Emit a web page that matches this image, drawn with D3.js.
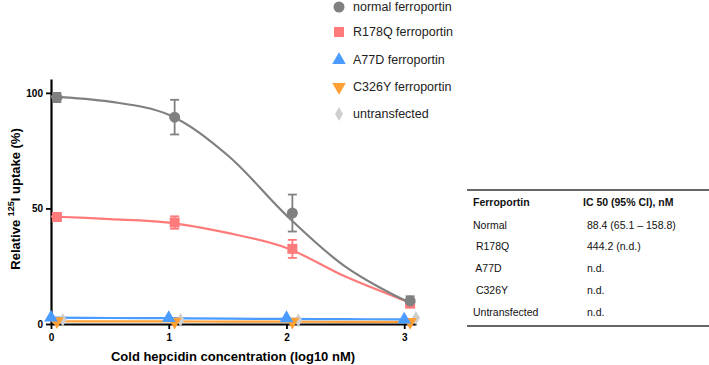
<!DOCTYPE html>
<html>
<head>
<meta charset="utf-8">
<script src="https://cdn.jsdelivr.net/npm/d3@7"></script>
<style>
  body { margin: 0; background: #fff; }
  svg { font-family: "Liberation Sans", Arial, sans-serif; }
  .axis text { font-size: 10px; font-weight: bold; fill: #000; }
  .axis path, .axis line { stroke: #000; }
</style>
</head>
<body>
<div id="chart"></div>
<script>
// concentrations (log10 nM)
const doses = [0, 1, 2, 3];

// measured points (mean, sem)
const normalMean = [98, 89.5, 48, 10];
const normalErr = [2, 7.5, 8, 2];
const r178qMean = [46.3, 43.9, 32.5, 8.8];
const r178qErr = [1, 2.7, 3.9, 1.5];
const a77dMean = [2.8, 2.6, 2.5, 1.9];
const c326yMean = [1.2, 1.0, 1.0, 0.9];
const untransMean = [1.8, 1.8, 1.6, 2.6];

// fitted curves
const curveX = [0, 0.5, 1, 1.5, 2, 2.5, 3, 3.05];
const normalFit = [98.4, 96.2, 90.5, 73, 47, 24.8, 10.4, 9.6];
const r178qFit = [46.5, 45.4, 43.9, 39.4, 32.9, 20.5, 10.2, 9.2];
const a77dFit = [2.8, 2.6, 2.5, 2.3, 2.2, 2.1, 2.0, 2.0];
const c326yFit = [1.2, 1.15, 1.1, 1.05, 1.0, 0.95, 0.9, 0.9];

const seriesNames = ["normal ferroportin", "R178Q ferroportin", "A77D ferroportin", "C326Y ferroportin", "untransfected"];
const seriesColors = ["#808080", "#ff7a7a", "#4a9cff", "#ffa035", "#cfcfcf"];
const seriesOffsets = [0.05, 0.05, 0, 0.05, 0.1];

const yTicks = [0, 50, 100];
const xTicks = [0, 1, 2, 3];

const tableHead = ["Ferroportin", "IC 50 (95% CI), nM"];
const tableRows = [
    ["Normal", "88.4 (65.1 \u2013 158.8)"],
    [" R178Q", "444.2 (n.d.)"],
    [" A77D", "n.d."],
    [" C326Y", "n.d."],
    ["Untransfected", "n.d."]
];

const svg = d3.select("#chart").append("svg")
    .attr("width", 709)
    .attr("height", 365);

const x = d3.scaleLinear().domain([0, 3.1]).range([51, 416]);
const y = d3.scaleLinear().domain([0, 106]).range([324, 79]);

// axes
const xAxis = svg.append("g")
    .attr("class", "axis")
    .attr("transform", "translate(0," + y(0) + ")")
    .call(d3.axisBottom(x).tickValues(xTicks).tickSize(5).tickSizeOuter(0).tickFormat(d3.format("d")));
xAxis.select(".domain").attr("stroke-width", 2.2);
xAxis.selectAll(".tick line").attr("stroke-width", 1.8);
xAxis.selectAll(".tick text").attr("dy", "0.9em");

const yAxis = svg.append("g")
    .attr("class", "axis")
    .attr("transform", "translate(" + x(0) + ",0)")
    .call(d3.axisLeft(y).tickValues(yTicks).tickSize(5).tickSizeOuter(0));
yAxis.select(".domain").attr("stroke-width", 2.2);
yAxis.selectAll(".tick line").attr("stroke-width", 1.8);

// axis titles
svg.append("text")
    .attr("x", 233)
    .attr("y", 361)
    .attr("text-anchor", "middle")
    .attr("font-size", 13)
    .attr("font-weight", "bold")
    .text("Cold hepcidin concentration (log10 nM)");

const yTitle = svg.append("text")
    .attr("transform", "translate(20,199) rotate(-90)")
    .attr("text-anchor", "middle")
    .attr("font-size", 13)
    .attr("font-weight", "bold");
yTitle.append("tspan").text("Relative ");
yTitle.append("tspan").attr("font-size", 9).attr("dy", -6).text("125");
yTitle.append("tspan").attr("dy", 6).text("I uptake (%)");

// fitted lines
const line = d3.line()
    .x(d => x(d[0]))
    .y(d => y(d[1]))
    .curve(d3.curveCatmullRom.alpha(0.5));

const fits = [
    {vals: c326yFit, color: seriesColors[3]},
    {vals: a77dFit, color: seriesColors[2]},
    {vals: r178qFit, color: seriesColors[1]},
    {vals: normalFit, color: seriesColors[0]}
];
fits.forEach(function (f) {
    svg.append("path")
        .datum(curveX.map((cx, i) => [cx, f.vals[i]]))
        .attr("fill", "none")
        .attr("stroke", f.color)
        .attr("stroke-width", 2.2)
        .attr("d", line);
});

// error bars
function errorBars(means, errs, color, off) {
    doses.forEach(function (d, i) {
        const cx = x(d + off);
        const g = svg.append("g").attr("stroke", color).attr("stroke-width", 1.8);
        g.append("line").attr("x1", cx).attr("x2", cx)
            .attr("y1", y(means[i] - errs[i])).attr("y2", y(means[i] + errs[i]));
        [means[i] - errs[i], means[i] + errs[i]].forEach(function (v) {
            g.append("line").attr("x1", cx - 4.5).attr("x2", cx + 4.5)
                .attr("y1", y(v)).attr("y2", y(v));
        });
    });
}
errorBars(r178qMean, r178qErr, seriesColors[1], seriesOffsets[1]);
errorBars(normalMean, normalErr, seriesColors[0], seriesOffsets[0]);

// markers
const symbols = [
    d3.symbol().type(d3.symbolCircle).size(95),
    d3.symbol().type(d3.symbolSquare).size(100),
    d3.symbol().type(d3.symbolTriangle).size(80),
    d3.symbol().type(d3.symbolTriangle).size(80),
    d3.symbol().type(d3.symbolDiamond).size(55)
];
const rotations = [0, 0, 0, 180, 0];
const allMeans = [normalMean, r178qMean, a77dMean, c326yMean, untransMean];
const drawOrder = [4, 3, 2, 1, 0];

drawOrder.forEach(function (s) {
    svg.append("g").selectAll("path")
        .data(allMeans[s])
        .join("path")
        .attr("d", symbols[s])
        .attr("fill", seriesColors[s])
        .attr("transform", (v, i) => "translate(" + x(doses[i] + seriesOffsets[s]) + "," + y(v) + ") rotate(" + rotations[s] + ")");
});

// legend
const legendY = [7, 32, 60, 87, 114];
const legend = svg.append("g");
seriesNames.forEach(function (name, i) {
    legend.append("path")
        .attr("d", symbols[i])
        .attr("fill", seriesColors[i])
        .attr("transform", "translate(339," + legendY[i] + ") rotate(" + rotations[i] + ")");
    legend.append("text")
        .attr("x", 353)
        .attr("y", legendY[i])
        .attr("dy", "0.35em")
        .attr("font-size", 12.5)
        .attr("fill", "#222")
        .text(name);
});

// IC50 table
const table = svg.append("g").attr("font-size", 10.5).attr("fill", "#111");
table.append("line").attr("x1", 467).attr("x2", 709).attr("y1", 190).attr("y2", 190)
    .attr("stroke", "#333").attr("stroke-width", 1.5);
table.append("line").attr("x1", 467).attr("x2", 709).attr("y1", 326).attr("y2", 326)
    .attr("stroke", "#333").attr("stroke-width", 1.5);
table.append("text").attr("x", 473).attr("y", 202).attr("dy", "0.35em")
    .attr("font-weight", "bold").text(tableHead[0]);
table.append("text").attr("x", 583).attr("y", 202).attr("dy", "0.35em")
    .attr("font-weight", "bold").text(tableHead[1]);
const rowY = [225, 246, 268, 290, 312];
tableRows.forEach(function (r, i) {
    table.append("text").attr("x", 473).attr("y", rowY[i]).attr("dy", "0.35em")
        .style("white-space", "pre").text(r[0]);
    table.append("text").attr("x", 587).attr("y", rowY[i]).attr("dy", "0.35em").text(r[1]);
});
</script>
</body>
</html>
